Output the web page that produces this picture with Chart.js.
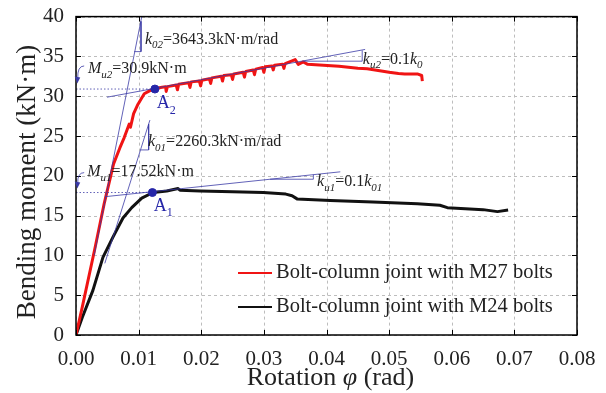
<!DOCTYPE html>
<html>
<head>
<meta charset="utf-8">
<script src="https://cdn.jsdelivr.net/npm/chart.js@4.4.1/dist/chart.umd.min.js"></script>
<style>
  body { margin: 0; background: #fff; }
</style>
</head>
<body>
<canvas id="grafico" width="606" height="393"></canvas>
<script>
// tick labels
const xTicks = [0, 0.01, 0.02, 0.03, 0.04, 0.05, 0.06, 0.07, 0.08];
const yTicks = [0, 5, 10, 15, 20, 25, 30, 35, 40];

// M27 joint (red)
const rotM27 = [0, 0.001, 0.003, 0.0045, 0.006, 0.007, 0.0077, 0.0085, 0.0087, 0.0092, 0.0099, 0.0109, 0.0118, 0.0126,
  0.0135, 0.0143, 0.0144, 0.0146, 0.016, 0.0162, 0.0164, 0.018, 0.0182, 0.0184, 0.0197, 0.0199, 0.0201,
  0.0213, 0.0215, 0.0217, 0.0232, 0.0234, 0.0236, 0.0248, 0.025, 0.0252, 0.0267, 0.0269, 0.0271,
  0.0283, 0.0285, 0.0287, 0.0298, 0.03, 0.0302, 0.0313, 0.0315, 0.0317, 0.033, 0.0332, 0.0334,
  0.035, 0.0355, 0.0363, 0.037, 0.0395, 0.042, 0.045, 0.0465, 0.0485, 0.05, 0.0515, 0.0525,
  0.0545, 0.0552, 0.0553];
const momM27 = [0, 3.5, 10.8, 16.5, 21.5, 23.5, 24.8, 26.5, 26.1, 27.8, 29, 30.3, 30.7, 30.9,
  31.1, 31.2, 30.6, 31.2, 31.4, 30.8, 31.5, 31.7, 31.1, 31.8, 31.9, 31.3, 32.0,
  32.2, 31.6, 32.3, 32.5, 31.9, 32.6, 32.7, 32.1, 32.8, 33.0, 32.4, 33.1,
  33.3, 32.7, 33.4, 33.6, 33.0, 33.7, 33.8, 33.3, 33.9, 34.0, 33.5, 34.1,
  34.6, 34.0, 34.3, 34.0, 33.9, 33.75, 33.5, 33.45, 33.2, 33.0, 32.85, 32.8,
  32.8, 32.6, 31.9];

// M24 joint (black)
const rotM24 = [0, 0.001, 0.0027, 0.0043, 0.0059, 0.0075, 0.0089, 0.0105, 0.0123, 0.0145, 0.0163, 0.0166, 0.0198,
  0.025, 0.0299, 0.0335, 0.0345, 0.0353, 0.0406, 0.0474, 0.0545, 0.0581, 0.0593, 0.065, 0.0673, 0.069];
const momM24 = [0, 2.2, 5.6, 9.75, 12.3, 14.7, 16.0, 17.2, 17.9, 18.1, 18.4, 18.2, 18.1,
  18.0, 17.9, 17.7, 17.5, 17.1, 16.9, 16.7, 16.5, 16.3, 16.0, 15.75, 15.5, 15.7];

// construction lines
const k02Rot = [0.0029, 0.0105];
const k02Mom = [10, 40];
const k01Rot = [0.0046, 0.0118];
const k01Mom = [9, 27];
const ku2Rot = [0.00495, 0.04617];
const ku2Mom = [29.875, 35.875];
const ku1Rot = [0.00463, 0.0422];
const ku1Mom = [17.375, 20.5];
// yield points A1, A2
const yieldRot = [0.0122, 0.0126];
const yieldMom = [17.9, 30.9];

const pts = (xs, ys) => xs.map((x, i) => ({ x: x, y: ys[i] }));
const blue = '#3a3aa6';
const serif = '"Liberation Serif", "Times New Roman", serif';

function blueLine(data, dash) {
  return {
    type: 'line', data: data, borderColor: blue, borderWidth: 0.8, pointRadius: 0,
    borderDash: dash || [], fill: false, order: 0, showLine: true, legend: false
  };
}

const datasets = [
  { label: 'Bolt-column joint with M27 bolts', type: 'line', data: pts(rotM27, momM27), borderColor: '#f01414',
    borderWidth: 3, borderJoinStyle: 'round', pointRadius: 0, fill: false, order: 1, legend: true },
  { label: 'Bolt-column joint with M24 bolts', type: 'line', data: pts(rotM24, momM24), borderColor: '#111',
    borderWidth: 3, borderJoinStyle: 'round', pointRadius: 0, fill: false, order: 2, legend: true },
  blueLine(pts(k02Rot, k02Mom)),
  blueLine(pts(k01Rot, k01Mom)),
  blueLine(pts(ku2Rot, ku2Mom)),
  blueLine(pts(ku1Rot, ku1Mom)),
  // slope triangles
  blueLine([{ x: 0.01038, y: 39.4 }, { x: 0.01038, y: 35.6 }, { x: 0.0093, y: 35.6 }]),
  blueLine([{ x: 0.0116, y: 26.5 }, { x: 0.0116, y: 23.25 }, { x: 0.0103, y: 23.25 }]),
  blueLine([{ x: 0.0363, y: 34.4 }, { x: 0.0457, y: 34.4 }, { x: 0.0457, y: 35.75 }]),
  blueLine([{ x: 0.031, y: 19.57 }, { x: 0.0379, y: 19.57 }, { x: 0.0379, y: 20.14 }]),
  // dotted guides to the axis
  blueLine([{ x: 0, y: yieldMom[1] }, { x: yieldRot[1], y: yieldMom[1] }], [1.5, 2]),
  blueLine([{ x: 0, y: yieldMom[0] }, { x: yieldRot[0], y: yieldMom[0] }], [1.5, 2]),
  { type: 'scatter', data: pts(yieldRot, yieldMom), backgroundColor: '#2626a8', borderColor: '#2626a8',
    pointRadius: 4, order: -1, legend: false }
];

// text labels: anchor in data units, parts [text, italic, subscript]
const labels = [
  { x: 0.0110, y: 36.6, parts: [['k', 1, 0], ['02', 1, 1], ['=3643.3kN·m/rad', 0, 0]] },
  { x: 0.0019, y: 32.9, parts: [['M', 1, 0], ['u2', 1, 1], ['=30.9kN·m', 0, 0]] },
  { x: 0.0458, y: 34.1, parts: [['k', 1, 0], ['u2', 1, 1], ['=0.1', 0, 0], ['k', 1, 0], ['0', 1, 1]] },
  { x: 0.0115, y: 23.75, parts: [['k', 1, 0], ['01', 1, 1], ['=2260.3kN·m/rad', 0, 0]] },
  { x: 0.0018, y: 20.0, parts: [['M', 1, 0], ['u1', 1, 1], ['=17.52kN·m', 0, 0]] },
  { x: 0.0385, y: 18.75, parts: [['k', 1, 0], ['u1', 1, 1], ['=0.1', 0, 0], ['k', 1, 0], ['01', 1, 1]] },
  { x: 0.0129, y: 28.5, color: '#2626a8', size: 18, parts: [['A', 0, 0], ['2', 0, 1]] },
  { x: 0.0124, y: 15.6, color: '#2626a8', size: 18, parts: [['A', 0, 0], ['1', 0, 1]] }
];
const arrows = [
  { from: [0.0013, 33.8], to: [0.0002, 31.6] },
  { from: [0.0013, 20.4], to: [0.0002, 18.4] }
];

function drawRich(ctx, x, y, parts, size, color) {
  ctx.fillStyle = color || '#222';
  ctx.textBaseline = 'alphabetic';
  ctx.textAlign = 'left';
  parts.forEach(p => {
    const s = p[2] ? Math.round(size * 0.68) : size;
    ctx.font = (p[1] ? 'italic ' : '') + s + 'px ' + serif;
    ctx.fillText(p[0], x, y + (p[2] ? size * 0.3 : 0));
    x += ctx.measureText(p[0]).width;
  });
}

const decor = {
  id: 'decor',
  beforeDatasetsDraw(chart) {
    // dashed grid
    const ctx = chart.ctx;
    const a = chart.chartArea;
    const xs = chart.scales.x, ys = chart.scales.y;
    ctx.save();
    ctx.strokeStyle = '#bdbdbd';
    ctx.lineWidth = 1;
    ctx.setLineDash([3, 3]);
    ctx.beginPath();
    xTicks.forEach(v => {
      const px = Math.round(xs.getPixelForValue(v)) + 0.5;
      ctx.moveTo(px, a.top); ctx.lineTo(px, a.bottom);
    });
    yTicks.forEach(v => {
      const py = Math.round(ys.getPixelForValue(v)) + 0.5;
      ctx.moveTo(a.left, py); ctx.lineTo(a.right, py);
    });
    ctx.stroke();
    ctx.restore();
  },
  afterDraw(chart) {
    const ctx = chart.ctx;
    const a = chart.chartArea;
    const xs = chart.scales.x, ys = chart.scales.y;
    ctx.save();
    // frame
    ctx.strokeStyle = '#000';
    ctx.lineWidth = 1.5;
    ctx.strokeRect(a.left, a.top, a.right - a.left, a.bottom - a.top);
    // inward ticks
    ctx.lineWidth = 1;
    ctx.beginPath();
    xTicks.forEach(v => {
      const px = Math.round(xs.getPixelForValue(v)) + 0.5;
      ctx.moveTo(px, a.bottom); ctx.lineTo(px, a.bottom - 5);
      ctx.moveTo(px, a.top); ctx.lineTo(px, a.top + 5);
    });
    yTicks.forEach(v => {
      const py = Math.round(ys.getPixelForValue(v)) + 0.5;
      ctx.moveTo(a.left, py); ctx.lineTo(a.left + 5, py);
      ctx.moveTo(a.right, py); ctx.lineTo(a.right - 5, py);
    });
    ctx.stroke();

    // axis titles
    ctx.fillStyle = '#222';
    ctx.textAlign = 'center';
    ctx.textBaseline = 'middle';
    ctx.font = '27px ' + serif;
    ctx.save();
    ctx.translate(28, 182);
    ctx.rotate(-Math.PI / 2);
    ctx.fillText('Bending moment (kN·m)', 0, 0);
    ctx.restore();
    const t1 = 'Rotation ', t2 = 'φ', t3 = ' (rad)';
    ctx.font = '26px ' + serif;
    const w1 = ctx.measureText(t1).width, w3 = ctx.measureText(t3).width;
    ctx.font = 'italic 26px ' + serif;
    const w2 = ctx.measureText(t2).width;
    let x0 = (a.left + a.right) / 2 + 4 - (w1 + w2 + w3) / 2;
    ctx.textAlign = 'left';
    ctx.font = '26px ' + serif;
    ctx.fillText(t1, x0, 378);
    ctx.font = 'italic 26px ' + serif;
    ctx.fillText(t2, x0 + w1, 378);
    ctx.font = '26px ' + serif;
    ctx.fillText(t3, x0 + w1 + w2, 378);

    // annotation texts
    labels.forEach(l => {
      drawRich(ctx, xs.getPixelForValue(l.x), ys.getPixelForValue(l.y), l.parts, l.size || 16, l.color);
    });

    // curved arrows to the moment axis
    ctx.strokeStyle = blue;
    ctx.fillStyle = blue;
    ctx.lineWidth = 0.8;
    arrows.forEach(ar => {
      const fx = xs.getPixelForValue(ar.from[0]), fy = ys.getPixelForValue(ar.from[1]);
      const tx = xs.getPixelForValue(ar.to[0]), ty = ys.getPixelForValue(ar.to[1]);
      ctx.beginPath();
      ctx.moveTo(fx, fy);
      ctx.quadraticCurveTo(tx, fy, tx + 0.5, ty - 5);
      ctx.stroke();
      ctx.beginPath();
      ctx.moveTo(tx, ty);
      ctx.lineTo(tx - 2.5, ty - 7);
      ctx.lineTo(tx + 3, ty - 6);
      ctx.closePath();
      ctx.fill();
    });

    // legend
    const rows = chart.data.datasets.filter(d => d.legend);
    rows.forEach((d, i) => {
      const y = 273 + i * 34;
      ctx.strokeStyle = d.borderColor;
      ctx.lineWidth = 2;
      ctx.beginPath();
      ctx.moveTo(238, y); ctx.lineTo(272, y);
      ctx.stroke();
      ctx.fillStyle = '#222';
      ctx.font = '20.5px ' + serif;
      ctx.textAlign = 'left';
      ctx.textBaseline = 'middle';
      ctx.fillText(d.label, 276, y);
    });
    ctx.restore();
  }
};

const tickFont = { family: serif, size: 21 };

new Chart(document.getElementById('grafico'), {
  type: 'scatter',
  data: { datasets: datasets },
  options: {
    responsive: false,
    animation: false,
    layout: { padding: { top: 15, right: 29, left: 0, bottom: 0 } },
    plugins: { legend: { display: false }, tooltip: { enabled: false } },
    scales: {
      x: {
        type: 'linear', min: 0, max: 0.08,
        afterBuildTicks: s => { s.ticks = xTicks.map(v => ({ value: v })); },
        afterFit: s => { s.height = 58; },
        ticks: { font: tickFont, color: '#222', padding: 4, maxRotation: 0, callback: v => v.toFixed(2) },
        grid: { display: false },
        border: { display: false }
      },
      y: {
        type: 'linear', min: 0, max: 40,
        afterBuildTicks: s => { s.ticks = yTicks.map(v => ({ value: v })); },
        afterFit: s => { s.width = 76; },
        ticks: { font: tickFont, color: '#222', padding: 4, callback: v => String(v) },
        grid: { display: false },
        border: { display: false }
      }
    }
  },
  plugins: [decor]
});
</script>
</body>
</html>
